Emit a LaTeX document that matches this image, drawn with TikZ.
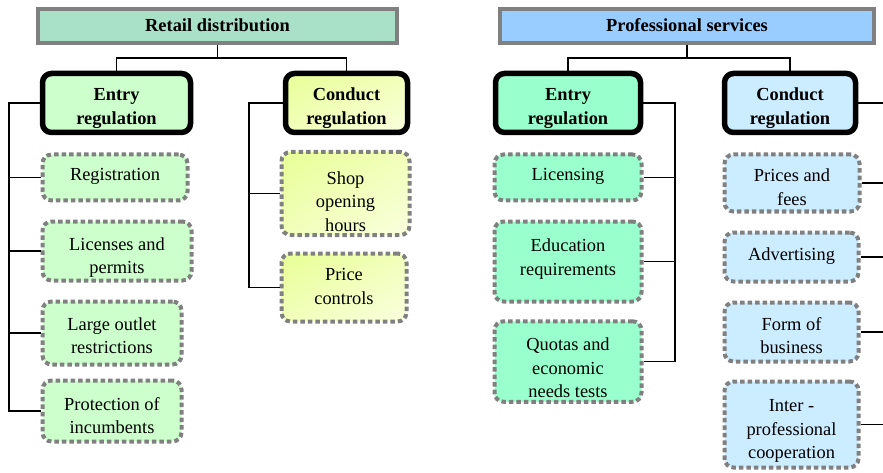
\documentclass[tikz,border=0pt]{standalone}
\usepackage{fontspec}
\setmainfont{Liberation Serif}
\usetikzlibrary{shadings}
\definecolor{grayline}{RGB}{128,128,128}
\definecolor{retailtop}{RGB}{168,224,200}
\definecolor{retailentry}{RGB}{204,255,204}
\definecolor{retailcondA}{RGB}{232,255,150}
\definecolor{retailcondB}{RGB}{250,255,222}
\definecolor{proftop}{RGB}{153,204,255}
\definecolor{profentry}{RGB}{153,255,204}
\definecolor{profcond}{RGB}{204,236,255}
\begin{document}
\begin{tikzpicture}[x=1pt,y=-1pt,
		every node/.style={font=\rmfamily\fontsize{18.4}{23.5}\selectfont},
		tx/.style={text height=#1pt, text depth=4pt},
		title/.style={draw=grayline, line width=4pt, inner sep=0pt, tx=15, font=\rmfamily\bfseries\fontsize{18.4}{23.5}\selectfont},
		head/.style={draw=black, line width=5.5pt, rounded corners=9pt, inner sep=0pt, align=center, tx=47, font=\rmfamily\bfseries\fontsize{18.4}{23.5}\selectfont},
		item/.style={draw=grayline, line width=4pt, dash pattern=on 4.5pt off 3pt, rounded corners=9pt, inner sep=0pt, align=center},
		yshade/.style={upper left=retailcondA, lower right=retailcondB, upper right=retailcondA!50!retailcondB, lower left=retailcondA!50!retailcondB},
		link/.style={draw=black, line width=1.4pt}]
		\useasboundingbox (0,0) rectangle (883,473);
		
		% retail distribution
		\node[title, fill=retailtop, minimum width=359pt, minimum height=34pt] (lt) at (217.5,26) {Retail distribution};
		\node[head, fill=retailentry, minimum width=148pt, minimum height=59pt] (le) at (116.5,103) {Entry\\regulation};
		\node[head, yshade, minimum width=122pt, minimum height=59pt] (lc) at (346.5,103) {Conduct\\regulation};
		
		\node[item, tx=11, fill=retailentry, minimum width=145pt, minimum height=46pt] (reg) at (115,177.5) {Registration};
		\node[item, tx=49, fill=retailentry, minimum width=149pt, minimum height=59pt] (lic) at (117,251) {Licenses and\\permits};
		\node[item, tx=45, fill=retailentry, minimum width=139pt, minimum height=63pt] (lor) at (112,333) {Large outlet\\restrictions};
		\node[item, tx=49, fill=retailentry, minimum width=139pt, minimum height=61pt] (poi) at (112,411) {Protection of\\incumbents};
		
		\node[item, tx=79, yshade, minimum width=128pt, minimum height=80pt] (soh) at (345.5,193.5) {Shop\\opening\\hours};
		\node[item, tx=37.5, yshade, minimum width=125pt, minimum height=68pt] (prc) at (344,287.5) {Price\\controls};
		
		\coordinate (lbar) at (0,58);
		\draw[link] (lt.south) -- (lt.south |- lbar) -| (le.north);
		\draw[link] (lt.south |- lbar) -| (lc.north);
		
		\coordinate (ltrunk) at (9,413);
		\draw[link] (le.west) -| (ltrunk |- poi.west) -- (poi.west);
		\draw[link] (ltrunk |- reg.west) -- (reg.west);
		\draw[link] (ltrunk |- lic.west) -- (lic.west);
		\draw[link] (ltrunk |- lor.west) -- (lor.west);
		
		\coordinate (ctrunk) at (249,287);
		\draw[link] (lc.west) -| (ctrunk |- prc.west) -- (prc.west);
		\draw[link] (ctrunk |- soh.west) -- (soh.west);
		
		% professional services
		\node[title, fill=proftop, minimum width=374pt, minimum height=34pt] (rt) at (687,26) {Professional services};
		\node[head, fill=profentry, minimum width=145pt, minimum height=59pt] (re) at (568,103) {Entry\\regulation};
		\node[head, fill=profcond, minimum width=131pt, minimum height=59pt] (rc) at (790,103) {Conduct\\regulation};
		
		\node[item, tx=11, fill=profentry, minimum width=147pt, minimum height=46pt] (lcs) at (568,177.5) {Licensing};
		\node[item, tx=31.5, fill=profentry, minimum width=147pt, minimum height=80pt] (edu) at (568,261.5) {Education\\requirements};
		\node[item, tx=76.5, fill=profentry, minimum width=147pt, minimum height=80pt] (quo) at (568,361.5) {Quotas and\\economic\\needs tests};
		
		\node[item, tx=48.5, fill=profcond, minimum width=135pt, minimum height=57pt] (pf) at (792,183) {Prices and\\fees};
		\node[item, tx=10, fill=profcond, minimum width=134pt, minimum height=49pt] (adv) at (791.5,257) {Advertising};
		\node[item, tx=47, fill=profcond, minimum width=134pt, minimum height=59pt] (fob) at (791.5,332) {Form of\\business};
		\node[item, tx=72.5, fill=profcond, minimum width=134pt, minimum height=86pt] (ipc) at (791.5,424.5) {Inter -\\professional\\cooperation};
		
		\coordinate (rbar) at (0,58);
		\draw[link] (rt.south) -- (rt.south |- rbar) -| (re.north);
		\draw[link] (rt.south |- rbar) -| (rc.north);
		
		\coordinate (etrunk) at (675,363);
		\draw[link] (re.east) -| (etrunk |- quo.east) -- (quo.east);
		\draw[link] (etrunk |- lcs.east) -- (lcs.east);
		\draw[link] (etrunk |- edu.east) -- (edu.east);
		
		\coordinate (redge) at (883,0);
		\draw[link] (rc.east) -- (redge |- rc.east);
		\draw[link] (pf.east) -- (redge |- pf.east);
		\draw[link] (adv.east) -- (redge |- adv.east);
		\draw[link] (fob.east) -- (redge |- fob.east);
		\draw[link] (ipc.east) -- (redge |- ipc.east);
		\end{tikzpicture}
\end{document}
